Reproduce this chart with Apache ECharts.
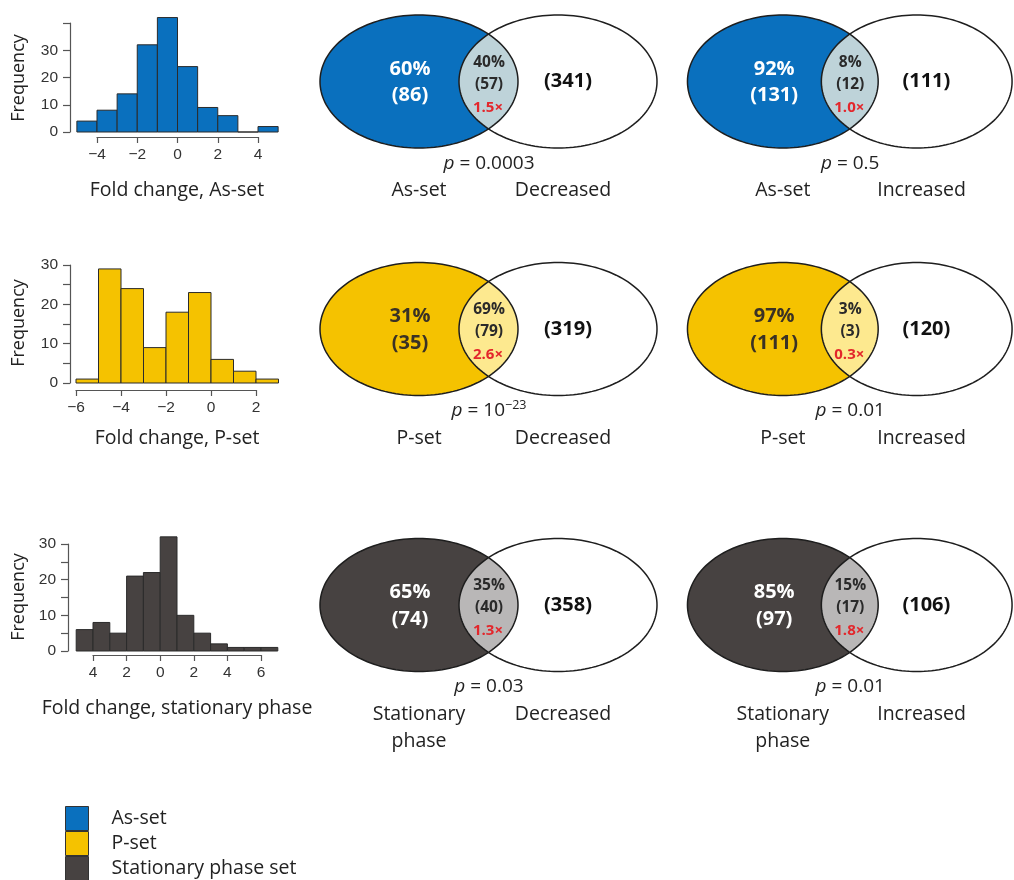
<!DOCTYPE html>
<html>
<head>
<meta charset="utf-8">
<script src="https://cdn.jsdelivr.net/npm/echarts@6/dist/echarts.min.js"></script>
<style>
  html, body { margin: 0; padding: 0; background: #ffffff; }
  #chart { width: 1014px; height: 880px; }
</style>
</head>
<body>
<div id="chart"></div>
<script>
// ---- Histogram data: bin edges and counts per gene set ----
const asBinEdges = [-5, -4, -3, -2, -1, 0, 1, 2, 3, 4, 5];
const asCounts = [4, 8, 14, 32, 42, 24, 9, 6, 0, 2];
const pBinEdges = [-6, -5, -4, -3, -2, -1, 0, 1, 2, 3];
const pCounts = [1, 29, 24, 9, 18, 23, 6, 3, 1];
const statBinEdges = [-5, -4, -3, -2, -1, 0, 1, 2, 3, 4, 5, 6, 7];
const statCounts = [6, 8, 5, 21, 22, 32, 10, 5, 2, 1, 1, 1];

// ---- Histogram axis ticks ----
const asXTicks = [-4, -2, 0, 2, 4];
const asXTickLabels = ['\u22124', '\u22122', '0', '2', '4'];
const pXTicks = [-6, -4, -2, 0, 2];
const pXTickLabels = ['\u22126', '\u22124', '\u22122', '0', '2'];
const statXTicks = [-4, -2, 0, 2, 4, 6];
const statXTickLabels = ['4', '2', '0', '2', '4', '6'];
const asYTickLabels = [0, 10, 20, 30];
const pYTickLabels = [0, 10, 20, 30];
const statYTickLabels = [0, 10, 20, 30];

// ---- Overlap (Venn) data, order: As/Dec, As/Inc, P/Dec, P/Inc, Stat/Dec, Stat/Inc ----
const vennSetNames = ['As-set', 'As-set', 'P-set', 'P-set', 'Stationary\nphase', 'Stationary\nphase'];
const vennTargetNames = ['Decreased', 'Increased', 'Decreased', 'Increased', 'Decreased', 'Increased'];
const vennSetOnlyCount = [86, 131, 35, 111, 74, 97];
const vennSetOnlyPct = [60, 92, 31, 97, 65, 85];
const vennOverlapCount = [57, 12, 79, 3, 40, 17];
const vennOverlapPct = [40, 8, 69, 3, 35, 15];
const vennTargetOnlyCount = [341, 111, 319, 120, 358, 106];
const vennFoldEnrichment = ['1.5', '1.0', '2.6', '0.3', '1.3', '1.8'];
const vennPValue = ['0.0003', '0.5', '10^\u221223', '0.01', '0.03', '0.01'];

// ---- Styling ----
const SET_COLORS = ['#0A70BE', '#F5C200', '#474241'];
const LENS_COLORS = ['#BED3D9', '#FDE98F', '#B9B7B7'];
const SET_TEXT_COLORS = ['#ffffff', '#3a3225', '#ffffff'];
const SERIES_NAMES = ['As-set', 'P-set', 'Stationary phase set'];
const TEXT_FONT = 'Open Sans';
const TICK_FONT = 'Liberation Sans';
const LABEL_SIZE = 19.5;

const chart = echarts.init(document.getElementById('chart'), null, { renderer: 'canvas' });

// ---- Histogram panels ----
const histPanels = [
  { edges: asBinEdges, counts: asCounts, xTicks: asXTicks, xLabels: asXTickLabels, yLabels: asYTickLabels,
    grid: { left: 97, top: 23, width: 161, height: 109 }, xMin: -4, xMax: 4, yMax: 40, yInterval: 10,
    yOffset: 27, xOffset: 5 },
  { edges: pBinEdges, counts: pCounts, xTicks: pXTicks, xLabels: pXTickLabels, yLabels: pYTickLabels,
    grid: { left: 76, top: 265, width: 180, height: 118 }, xMin: -6, xMax: 2, yMax: 30, yInterval: 5,
    yOffset: 6, xOffset: 7 },
  { edges: statBinEdges, counts: statCounts, xTicks: statXTicks, xLabels: statXTickLabels, yLabels: statYTickLabels,
    grid: { left: 93, top: 544, width: 168, height: 107 }, xMin: -4, xMax: 6, yMax: 30, yInterval: 5,
    yOffset: 25, xOffset: 4 }
];
const histTitles = ['Fold change, As-set', 'Fold change, P-set', 'Fold change, stationary phase'];
const histTitleY = [190, 438, 708];
const freqLabelY = [78, 323, 597];

// ---- Venn panels: left-ellipse centre in pixels ----
const vennCentres = [[419, 81.5], [786.5, 81.5], [419, 329], [786.5, 329], [419, 605], [786.5, 605]];
const RX = 0.99, RY = 0.665, GAP = 1.39; // ellipse radii and centre spacing (panel units)

const grids = [], xAxes = [], yAxes = [], series = [];

histPanels.forEach((h, i) => {
  grids.push(Object.assign({ containLabel: false }, h.grid));
  xAxes.push({
    gridIndex: i, type: 'value', min: h.xMin, max: h.xMax, interval: 2, offset: h.xOffset,
    axisLine: { show: true, onZero: false, lineStyle: { color: '#555', width: 1.2 } },
    axisTick: { show: true, length: 6, lineStyle: { color: '#555', width: 1.2 } },
    axisLabel: {
      fontFamily: TICK_FONT, fontSize: 15.5, color: '#333', margin: 10,
      formatter: v => { const k = h.xTicks.indexOf(v); return k >= 0 ? h.xLabels[k] : ''; }
    },
    splitLine: { show: false }
  });
  yAxes.push({
    gridIndex: i, type: 'value', min: 0, max: h.yMax, interval: h.yInterval, offset: h.yOffset,
    axisLine: { show: true, onZero: false, lineStyle: { color: '#555', width: 1.2 } },
    axisTick: { show: true, length: 7, lineStyle: { color: '#555', width: 1.2 } },
    axisLabel: {
      fontFamily: TICK_FONT, fontSize: 15.5, color: '#333', margin: 12,
      formatter: v => (h.yLabels.indexOf(v) >= 0 ? String(v) : '')
    },
    splitLine: { show: false }
  });
  const color = SET_COLORS[i];
  series.push({
    type: 'custom', name: SERIES_NAMES[i], xAxisIndex: i, yAxisIndex: i, clip: false,
    itemStyle: { color: color, borderColor: '#2b2b2b', borderWidth: 1 },
    encode: { x: [0, 1], y: 2 },
    data: h.counts.map((c, k) => [h.edges[k], h.edges[k + 1], c]),
    renderItem: (params, api) => {
      const a = api.coord([api.value(0), api.value(2)]);
      const b = api.coord([api.value(1), 0]);
      return {
        type: 'rect',
        shape: { x: a[0], y: a[1], width: b[0] - a[0], height: b[1] - a[1] },
        style: { fill: color, stroke: '#2b2b2b', lineWidth: 1 }
      };
    }
  });
});

function ellipsePoints(cx, t0, t1, n) {
  const pts = [];
  for (let k = 0; k <= n; k++) {
    const t = t0 + (t1 - t0) * k / n;
    pts.push([cx + RX * Math.cos(t), RY * Math.sin(t)]);
  }
  return pts;
}

function textEl(api, pos, text, opts) {
  const p = api.coord(pos);
  return {
    type: 'text', x: p[0], y: p[1],
    style: Object.assign({
      text: text, fontFamily: TEXT_FONT, fontSize: LABEL_SIZE, fontWeight: 'normal', fill: '#222',
      align: 'center', verticalAlign: 'middle', textAlign: 'center', textVerticalAlign: 'middle'
    }, opts || {})
  };
}

vennCentres.forEach((c, v) => {
  const gi = 3 + v;
  const row = Math.floor(v / 2);
  grids.push({ left: c[0] - 100, top: c[1] - 70, width: 340, height: 140 });
  xAxes.push({ gridIndex: gi, type: 'value', min: -1, max: 2.4, show: false });
  yAxes.push({ gridIndex: gi, type: 'value', min: -0.7, max: 0.7, show: false });
  series.push({
    type: 'custom', name: 'venn' + v, xAxisIndex: gi, yAxisIndex: gi, clip: false, silent: true,
    data: [[0, 0]],
    renderItem: (params, api) => {
      const toPx = pts => pts.map(p => api.coord(p));
      const a = Math.acos(GAP / 2 / RX);
      const leftPts = toPx(ellipsePoints(0, 0, Math.PI * 2, 160));
      const rightPts = toPx(ellipsePoints(GAP, 0, Math.PI * 2, 160));
      const lensPts = toPx(ellipsePoints(0, -a, a, 60).concat(ellipsePoints(GAP, Math.PI - a, Math.PI + a, 60)));
      const u = 0.01; // one panel unit per 100 px
      const lx = 0.70; // lens centre
      const fold = vennFoldEnrichment[v];
      const pv = vennPValue[v];
      let pText;
      if (pv.indexOf('^') >= 0) {
        const parts = pv.split('^');
        pText = '{i|p} = ' + parts[0] + '{s|' + parts[1] + '}';
      } else {
        pText = '{i|p} = ' + pv;
      }
      const setLines = vennSetNames[v].split('\n');
      const children = [
        { type: 'polygon', shape: { points: rightPts }, style: { fill: '#ffffff', stroke: null } },
        { type: 'polygon', shape: { points: leftPts }, style: { fill: SET_COLORS[row], stroke: null } },
        { type: 'polygon', shape: { points: lensPts }, style: { fill: LENS_COLORS[row], stroke: null } },
        { type: 'polygon', shape: { points: leftPts }, style: { fill: null, stroke: '#1e1e1e', lineWidth: 1.5 } },
        { type: 'polygon', shape: { points: rightPts }, style: { fill: null, stroke: '#1e1e1e', lineWidth: 1.5 } },
        textEl(api, [-9 * u, 12.5 * u], vennSetOnlyPct[v] + '%', { fontWeight: 'bold', fontSize: 20, fill: SET_TEXT_COLORS[row] }),
        textEl(api, [-9 * u, -14 * u], '(' + vennSetOnlyCount[v] + ')', { fontWeight: 'bold', fontSize: 20, fill: SET_TEXT_COLORS[row] }),
        textEl(api, [lx, 19 * u], vennOverlapPct[v] + '%', { fontWeight: 'bold', fontSize: 15.5, fill: '#2a2a2a' }),
        textEl(api, [lx, -3 * u], '(' + vennOverlapCount[v] + ')', { fontWeight: 'bold', fontSize: 15.5, fill: '#2a2a2a' }),
        textEl(api, [lx - 1 * u, -26 * u], fold + '\u00d7', { fontWeight: 'bold', fontSize: 15, fill: '#E3262B' }),
        textEl(api, [1.49, 0], '(' + vennTargetOnlyCount[v] + ')', { fontWeight: 'bold', fontSize: 20, fill: '#111' }),
        textEl(api, [lx, -82 * u], pText, {
          fontSize: 19, fill: '#222', lineHeight: 24,
          rich: {
            i: { fontStyle: 'italic', fontFamily: TEXT_FONT, fontSize: 19, fill: '#222' },
            s: { fontFamily: TEXT_FONT, fontSize: 12.5, fill: '#222', verticalAlign: 'top', lineHeight: 13 }
          }
        }),
        textEl(api, [1.44, -109 * u], vennTargetNames[v])
      ];
      setLines.forEach((line, k) => {
        children.push(textEl(api, [0, (-109 - 27 * k) * u], line));
      });
      return { type: 'group', children: children };
    }
  });
});

const graphics = [];
histTitles.forEach((t, i) => {
  graphics.push({
    type: 'text', x: 177, y: histTitleY[i],
    style: { text: t, fontFamily: TEXT_FONT, fontSize: LABEL_SIZE, fill: '#222', align: 'center', verticalAlign: 'middle', textAlign: 'center', textVerticalAlign: 'middle' }
  });
  graphics.push({
    type: 'text', x: 19, y: freqLabelY[i], rotation: Math.PI / 2,
    style: { text: 'Frequency', fontFamily: TEXT_FONT, fontSize: 18, fill: '#222', align: 'center', verticalAlign: 'middle', textAlign: 'center', textVerticalAlign: 'middle' }
  });
});

chart.setOption({
  animation: false,
  backgroundColor: '#ffffff',
  grid: grids,
  xAxis: xAxes,
  yAxis: yAxes,
  series: series,
  graphic: graphics,
  legend: {
    data: SERIES_NAMES,
    orient: 'vertical', left: 65, top: 806, height: 120, padding: 0,
    itemWidth: 23, itemHeight: 24, itemGap: 0,
    icon: 'rect', selectedMode: false,
    itemStyle: { borderColor: '#333', borderWidth: 1 },
    formatter: n => '{g|}' + n,
    textStyle: { fontFamily: TEXT_FONT, fontSize: LABEL_SIZE, color: '#222', lineHeight: 22, rich: { g: { width: 18 } } }
  }
});
</script>
</body>
</html>
